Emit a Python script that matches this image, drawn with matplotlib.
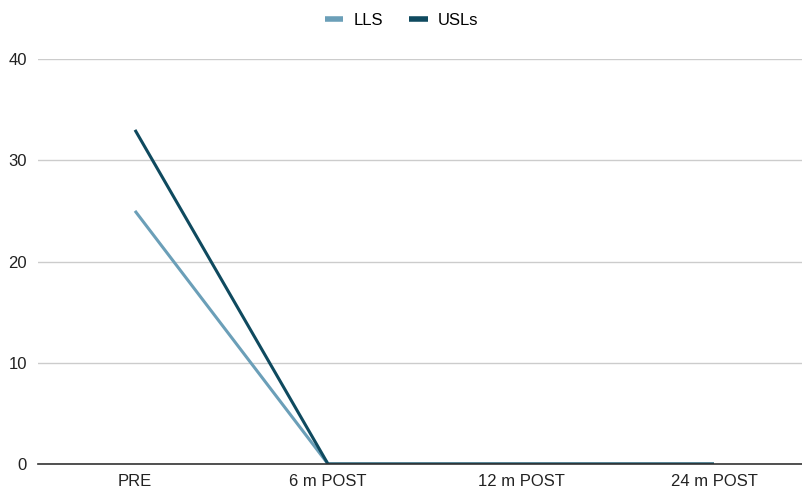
import matplotlib.pyplot as plt

plt.rcParams['font.family'] = ['Liberation Sans', 'DejaVu Sans']

categories = ["PRE", "6 m POST", "12 m POST", "24 m POST"]
lls = [25, 0, 0, 0]
usls = [33, 0, 0, 0]

fig = plt.figure(figsize=(8.03, 4.91), dpi=100)
ax = fig.add_axes([38 / 803, 1 - 464 / 491, (803 - 38) / 803, (464 - 59) / 491])

x = range(len(categories))
ax.plot(x, lls, color="#6b9fb8", linewidth=2.2, label="LLS", solid_capstyle="butt")
ax.plot(x, usls, color="#0f4a5f", linewidth=2.2, label="USLs", solid_capstyle="butt")

ax.set_xlim((38 - 135) / 193, (803 - 135) / 193)
ax.set_ylim(0, 40)
ax.set_yticks([0, 10, 20, 30, 40])
ax.set_xticks(list(x))
ax.set_xticklabels(categories)
ax.grid(axis="y", color="#cccccc", linewidth=1)
ax.set_axisbelow(True)
for s in ["top", "right", "left"]:
    ax.spines[s].set_visible(False)
ax.spines["bottom"].set_color("#333333")
ax.spines["bottom"].set_linewidth(1.2)
ax.tick_params(axis="both", length=0, labelsize=12, colors="#222222")
ax.tick_params(axis="y", pad=8)
ax.tick_params(axis="x", pad=7.5)

leg = fig.legend(loc="upper center", bbox_to_anchor=(0.5, 1.005), ncol=2, frameon=False,
                 fontsize=12, handlelength=1.1, columnspacing=1.6,
                 handletextpad=0.6)
for h in leg.get_lines():
    h.set_linewidth(4)

fig.savefig("out.png", dpi=100)
